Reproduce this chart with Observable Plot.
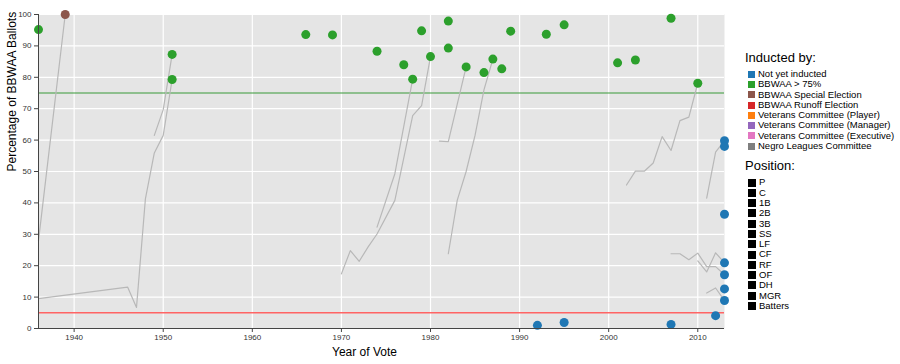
<!DOCTYPE html>
<html>
<head>
<meta charset="utf-8">
<script src="https://cdn.jsdelivr.net/npm/d3@7"></script>
<script src="https://cdn.jsdelivr.net/npm/@observablehq/plot@0.6"></script>
<style>
  body { margin: 0; background: #fff; font-family: "Liberation Sans", Arial, Helvetica, sans-serif; }
  #wrap { position: relative; width: 900px; height: 364px; }
  #legend { position: absolute; left: 745px; top: 50px; color: #000; font-size: 9.5px; }
  .lt { font-size: 13px; height: 16px; line-height: 16px; margin-bottom: 3px; }
  .lt2 { margin-top: 7px; }
  .li { display: flex; align-items: center; height: 10.3px; line-height: 10.3px; white-space: nowrap; }
  .sw { width: 7px; height: 7px; margin-left: 3px; margin-right: 3px; }
  .swp { width: 8px; height: 8px; margin-left: 3px; margin-right: 3px; background: #000; }
</style>
</head>
<body>
<div id="wrap"><div id="chart"></div><div id="legend"></div></div>
<script>
// ---------- data ----------
const categories = [
  "Not yet inducted",
  "BBWAA > 75%",
  "BBWAA Special Election",
  "BBWAA Runoff Election",
  "Veterans Committee (Player)",
  "Veterans Committee (Manager)",
  "Veterans Committee (Executive)",
  "Negro Leagues Committee"
];
const categoryColors = ["#1f77b4", "#2ca02c", "#8c564b", "#d62728", "#ff7f0e", "#9467bd", "#e377c2", "#7f7f7f"];
const positions = ["P", "C", "1B", "2B", "3B", "SS", "LF", "CF", "RF", "OF", "DH", "MGR", "Batters"];

const xTicks = [1940, 1950, 1960, 1970, 1980, 1990, 2000, 2010];
const yTicks = [0, 10, 20, 30, 40, 50, 60, 70, 80, 90, 100];

// final-vote points
const pointYears = [1936, 1939, 1951, 1951, 1966, 1969, 1974, 1977, 1978, 1979, 1980, 1982, 1982, 1984, 1986, 1987, 1988, 1989, 1993, 1995, 2001, 2003, 2007, 2010,
                    1992, 1995, 2007, 2012, 2013, 2013, 2013, 2013, 2013, 2013, 2013];
const pointPcts  = [95.2, 100, 87.3, 79.3, 93.6, 93.5, 88.3, 84.0, 79.4, 94.8, 86.6, 97.9, 89.3, 83.3, 81.5, 85.8, 82.7, 94.7, 93.7, 96.7, 84.6, 85.5, 98.8, 78.1,
                    1.0, 1.9, 1.3, 4.1, 59.8, 58.0, 36.4, 20.9, 17.1, 12.6, 8.9];
const pointStatus = [1, 2, 1, 1, 1, 1, 1, 1, 1, 1, 1, 1, 1, 1, 1, 1, 1, 1, 1, 1, 1, 1, 1, 1,
                     0, 0, 0, 0, 0, 0, 0, 0, 0, 0, 0];

// ballot trajectories (one id per player)
const trajId   = [1, 1,
                  2, 2, 2, 2, 2, 2, 2,
                  3, 3, 3,
                  4, 4, 4, 4, 4, 4, 4, 4, 4,
                  5, 5, 5,
                  6, 6, 6,
                  7, 7, 7, 7, 7, 7,
                  8, 8, 8, 8, 8, 8, 8, 8, 8,
                  9, 9, 9, 9, 9, 9, 9,
                  10, 10, 10, 10,
                  11, 11, 11,
                  12, 12, 12];
const trajYear = [1936, 1939,
                  1936, 1946, 1947, 1948, 1949, 1950, 1951,
                  1949, 1950, 1951,
                  1970, 1971, 1972, 1973, 1974, 1976, 1978, 1979, 1980,
                  1974, 1976, 1978,
                  1981, 1982, 1984,
                  1982, 1983, 1984, 1985, 1986, 1987,
                  2002, 2003, 2004, 2005, 2006, 2007, 2008, 2009, 2010,
                  2007, 2008, 2009, 2010, 2011, 2012, 2013,
                  2010, 2011, 2012, 2013,
                  2011, 2012, 2013,
                  2011, 2012, 2013];
const trajPct  = [28, 100,
                  9.5, 13.2, 6.7, 41.3, 55.9, 61.5, 79.3,
                  61.5, 69.7, 87.3,
                  17.4, 24.8, 21.4, 26.0, 30.1, 40.8, 67.8, 71.0, 86.6,
                  32.3, 49.3, 79.4,
                  59.7, 59.5, 83.3,
                  23.8, 40.8, 50.0, 61.5, 76.0, 85.8,
                  45.7, 50.1, 50.1, 52.7, 61.1, 56.7, 66.2, 67.3, 78.1,
                  23.8, 23.8, 21.9, 24.0, 19.7, 19.7, 17.1,
                  21.5, 18.0, 24.1, 20.9,
                  11.3, 12.9, 8.9,
                  41.5, 56.2, 59.8];

const threshold = [75];
const dropLimit = [5];
const xTitle = "Year of Vote";
const yTitle = "Percentage of BBWAA Ballots";

// ---------- tables ----------
const points = pointYears.map((y, i) => ({year: y, pct: pointPcts[i], status: categories[pointStatus[i]]}));
const traj = trajYear.map((y, i) => ({id: trajId[i], year: y, pct: trajPct[i]}));

const plot = Plot.plot({
  width: 900,
  height: 364,
  marginLeft: 38,
  marginRight: 176,
  marginTop: 14,
  marginBottom: 36,
  style: {fontFamily: "'Liberation Sans', Arial, sans-serif", fontSize: "8px", background: "transparent", overflow: "visible"},
  x: {domain: [1936, 2013]},
  y: {domain: [0, 100]},
  color: {domain: categories, range: categoryColors},
  marks: [
    Plot.frame({fill: "#e5e5e5", stroke: "none"}),
    Plot.gridX(xTicks, {stroke: "white", strokeOpacity: 1, strokeWidth: 1.2}),
    Plot.gridY(yTicks, {stroke: "white", strokeOpacity: 1, strokeWidth: 1.2}),
    Plot.ruleY(threshold, {stroke: "#399a39", strokeWidth: 1.2}),
    Plot.ruleY(dropLimit, {stroke: "#ff6464", strokeWidth: 1.5}),
    Plot.line(traj, {x: "year", y: "pct", z: "id", stroke: "#b8b8b8", strokeWidth: 1.2, curve: "linear"}),
    Plot.dot(points, {x: "year", y: "pct", fill: "status", r: 4.5, stroke: "none"}),
    Plot.ruleX([1936], {stroke: "#444", strokeWidth: 1}),
    Plot.ruleY([0], {stroke: "#444", strokeWidth: 1}),
    Plot.axisX({ticks: xTicks, tickFormat: d => String(d), tickSize: 4, tickPadding: 2, label: null, stroke: "#444", fill: "#333"}),
    Plot.axisY({ticks: yTicks, tickSize: 4, tickPadding: 3, label: null, stroke: "#444", fill: "#333"}),
    Plot.text([xTitle], {frameAnchor: "bottom", dy: 27, dx: -17, fontSize: 12, fill: "#000"}),
    Plot.text([yTitle], {frameAnchor: "left", dx: -26, rotate: -90, fontSize: 12, fill: "#000"})
  ]
});
document.getElementById("chart").appendChild(plot);

// ---------- legend ----------
const legend = document.getElementById("legend");
let html = '<div class="lt">Inducted by:</div>';
categories.forEach((c, i) => {
  html += `<div class="li"><span class="sw" style="background:${categoryColors[i]}"></span>${c}</div>`;
});
html += '<div class="lt lt2">Position:</div>';
positions.forEach(p => {
  html += `<div class="li"><span class="swp"></span>${p}</div>`;
});
legend.innerHTML = html;
</script>
</body>
</html>
